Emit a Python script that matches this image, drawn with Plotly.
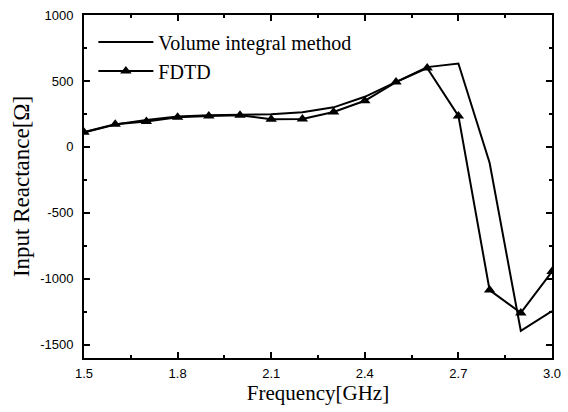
import plotly.graph_objects as go

freq = [1.5, 1.6, 1.7, 1.8, 1.9, 2.0, 2.1, 2.2, 2.3, 2.4, 2.5, 2.6, 2.7, 2.8, 2.9, 3.0]
volume_integral = [110, 170, 205, 230, 240, 245, 248, 262, 300, 380, 490, 605, 632, -120, -1395, -1245]
fdtd = [112, 172, 192, 225, 235, 240, 210, 212, 265, 350, 492, 598, 235, -1085, -1258, -945]

x_ticks = [1.5, 1.8, 2.1, 2.4, 2.7, 3.0]
x_labels = ["1.5", "1.8", "2.1", "2.4", "2.7", "3.0"]
y_ticks = [-1500, -1000, -500, 0, 500, 1000]
y_labels = ["-1500", "-1000", "-500", "0", "500", "1000"]

fig = go.Figure()
fig.add_trace(go.Scatter(x=freq, y=volume_integral, mode="lines", name="Volume integral method",
                         line=dict(color="black", width=2)))
fig.add_trace(go.Scatter(x=freq, y=fdtd, mode="lines+markers", name="FDTD",
                         line=dict(color="black", width=2),
                         marker=dict(symbol="triangle-up", size=10, color="black")))

axis_common = dict(showline=True, linecolor="black", linewidth=2, mirror="allticks",
                   ticks="inside", ticklen=6, tickwidth=1.5, tickcolor="black",
                   showgrid=False, zeroline=False, automargin=False,
                   tickfont=dict(family="Liberation Sans, Arial", size=13, color="black"))

fig.update_xaxes(range=[1.5, 3.0], tickvals=x_ticks, ticktext=x_labels,
                 minor=dict(ticks="inside", dtick=0.15, tick0=1.5, ticklen=3, tickcolor="black"),
                 title_text="Frequency[GHz]", title_standoff=6, ticklabelstandoff=2,
                 title_font=dict(family="Liberation Serif, Times New Roman", size=21, color="black"),
                 **axis_common)
fig.update_yaxes(range=[-1600, 1000], tickvals=y_ticks, ticktext=y_labels,
                 minor=dict(ticks="inside", dtick=250, tick0=0, ticklen=3, tickcolor="black"),
                 title_text="Input Reactance[Ω]", title_standoff=4, ticklabelstandoff=6,
                 title_font=dict(family="Liberation Serif, Times New Roman", size=23, color="black"),
                 **axis_common)

fig.update_layout(
    width=568, height=412,
    margin=dict(l=84, r=16, t=15, b=54),
    plot_bgcolor="white", paper_bgcolor="white",
    legend=dict(x=0.02, y=0.978, xanchor="left", yanchor="top",
                bgcolor="rgba(0,0,0,0)",
                font=dict(family="Liberation Serif, Times New Roman", size=20, color="black"),
                tracegroupgap=0, itemwidth=55),
)

fig.write_html("out.html", config={"displayModeBar": False},
               post_script="document.body.style.margin='0';")
